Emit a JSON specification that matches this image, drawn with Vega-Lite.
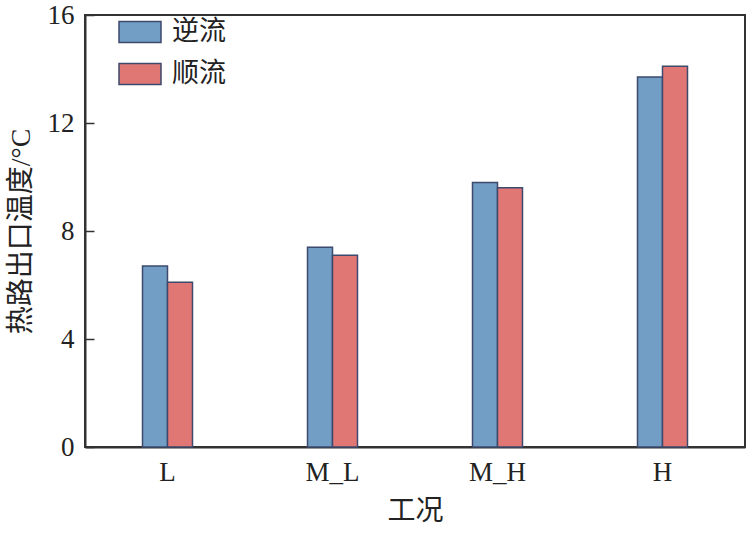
{
  "$schema": "https://vega.github.io/schema/vega-lite/v6.json",
  "width": 660,
  "height": 432,
  "autosize": {"type": "none"},
  "padding": {"left": 85, "top": 15, "right": 2, "bottom": 90},
  "background": "white",
  "config": {
    "font": "Liberation Serif, Noto Sans CJK SC",
    "view": {"stroke": "#333333", "strokeWidth": 2},
    "axis": {"labelFont": "Liberation Serif", "titleFont": "Liberation Serif, Noto Sans CJK SC", "labelColor": "#222", "titleColor": "#222", "titleFontWeight": "normal", "domainColor": "#333333", "domainWidth": 2, "tickColor": "#333333", "tickWidth": 1.5, "grid": false, "labelFontSize": 27, "titleFontSize": 28}
  },
  "data": {
    "values": [
      {"case": "L", "type": "逆流", "value": 6.7},
      {"case": "L", "type": "顺流", "value": 6.1},
      {"case": "M_L", "type": "逆流", "value": 7.4},
      {"case": "M_L", "type": "顺流", "value": 7.1},
      {"case": "M_H", "type": "逆流", "value": 9.8},
      {"case": "M_H", "type": "顺流", "value": 9.6},
      {"case": "H", "type": "逆流", "value": 13.7},
      {"case": "H", "type": "顺流", "value": 14.1}
    ]
  },
  "mark": {"type": "bar", "stroke": "#3d4a6e", "strokeWidth": 1.5},
  "encoding": {
    "x": {"field": "case", "type": "nominal", "sort": ["L", "M_L", "M_H", "H"], "scale": {"paddingInner": 0.697, "paddingOuter": 0.3485},
      "axis": {"title": "工况", "labelAngle": 0, "ticks": false, "labelPadding": 12, "titlePadding": 12}},
    "xOffset": {"field": "type", "type": "nominal", "sort": ["逆流", "顺流"], "scale": {"paddingInner": 0, "paddingOuter": 0}},
    "y": {"field": "value", "type": "quantitative", "scale": {"domain": [0, 16]},
      "axis": {"title": "热路出口温度/°C", "values": [0, 4, 8, 12, 16], "tickSize": -9, "labelPadding": 20, "titlePadding": 12}},
    "color": {"field": "type", "type": "nominal", "sort": ["逆流", "顺流"],
      "scale": {"domain": ["逆流", "顺流"], "range": ["#729dc5", "#e07774"]},
      "legend": {"title": null, "orient": "none", "legendX": 33, "legendY": -5, "symbolType": "M-1,-0.5H1V0.5H-1Z", "symbolSize": 1764, "symbolStrokeColor": "#3d4a6e", "symbolStrokeWidth": 1.5, "symbolOpacity": 1, "labelFont": "Liberation Serif, Noto Sans CJK SC", "labelFontSize": 27, "labelColor": "#222", "rowPadding": 6, "labelOffset": 10}}
  }
}
